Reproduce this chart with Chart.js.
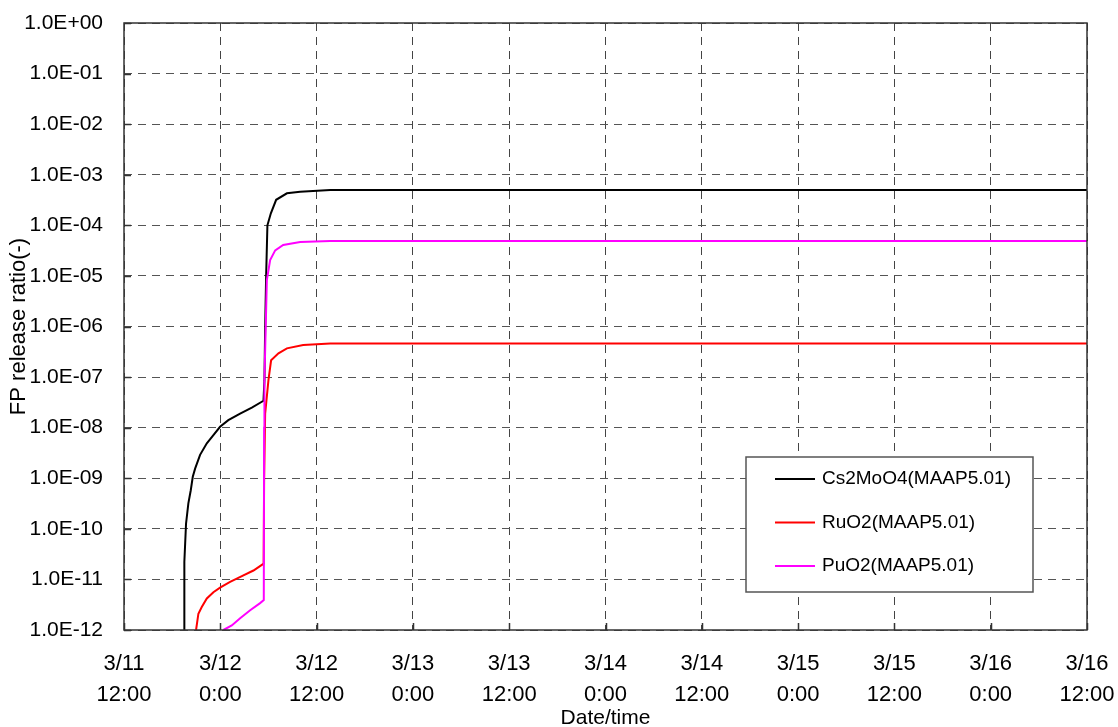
<!DOCTYPE html>
<html>
<head>
<meta charset="utf-8">
<script src="https://cdn.jsdelivr.net/npm/chart.js@4/dist/chart.umd.min.js"></script>
<style>
  html, body { margin: 0; padding: 0; background: #fff; }
  #wrap { width: 1118px; height: 727px; }
</style>
</head>
<body>
<div id="wrap"><canvas id="myChart" width="1118" height="727"></canvas></div>
<script>
// heures depuis le 3/11 12:00
const tickDates = ['3/11', '3/12', '3/12', '3/13', '3/13', '3/14', '3/14', '3/15', '3/15', '3/16', '3/16'];
const tickTimes = ['12:00', '0:00', '12:00', '0:00', '12:00', '0:00', '12:00', '0:00', '12:00', '0:00', '12:00'];

const csHours = [7.52, 7.52, 7.73, 8.02, 8.32, 8.57, 8.86, 9.48, 10.32, 11.14, 11.97, 13.0, 14.47, 15.93, 17.38, 17.5, 17.59, 17.71, 17.87, 18.3, 18.96, 20.3, 21.95, 25.7, 120];
const csRatio = [1e-12, 2.24e-11, 1.26e-10, 3.2e-10, 5.8e-10, 1.07e-9, 1.55e-9, 2.9e-9, 4.9e-9, 7.1e-9, 1.04e-8, 1.41e-8, 1.9e-8, 2.5e-8, 3.4e-8, 8.7e-8, 9.8e-7, 9.6e-6, 1.0e-4, 1.73e-4, 3.2e-4, 4.3e-4, 4.6e-4, 5.0e-4, 5.0e-4];

const ruHours = [8.98, 9.27, 9.69, 10.32, 11.14, 11.97, 13.22, 14.88, 16.13, 17.4, 17.46, 17.59, 18.0, 18.33, 19.25, 20.3, 22.33, 25.7, 120];
const ruRatio = [1e-12, 2.1e-12, 2.85e-12, 4.2e-12, 5.6e-12, 6.9e-12, 8.9e-12, 1.2e-11, 1.5e-11, 2.05e-11, 9.1e-10, 1.9e-8, 8.7e-8, 2.15e-7, 2.95e-7, 3.7e-7, 4.3e-7, 4.6e-7, 4.6e-7];

const puHours = [12.39, 13.43, 14.47, 15.72, 16.96, 17.42, 17.46, 17.5, 17.8, 18.21, 18.84, 19.84, 21.95, 25.7, 120];
const puRatio = [1e-12, 1.23e-12, 1.7e-12, 2.45e-12, 3.4e-12, 3.9e-12, 1e-8, 8.7e-8, 8.3e-6, 2.05e-5, 3.2e-5, 4.1e-5, 4.7e-5, 4.9e-5, 4.9e-5];

const toPoints = (xs, ys) => xs.map((x, i) => ({ x: x, y: ys[i] }));

const FONT = 'Arial, "Liberation Sans", sans-serif';

// cadre, petites graduations et légende dans le graphique
const framePlugin = {
  id: 'frame',
  afterDraw(chart) {
    const c = chart.ctx;
    const a = chart.chartArea;
    const xs = chart.scales.x, ys = chart.scales.y;
    c.save();
    c.strokeStyle = '#333';
    c.lineWidth = 1.5;
    c.beginPath();
    xs.ticks.forEach(t => {
      const px = Math.round(xs.getPixelForValue(t.value)) + 0.5;
      c.moveTo(px, a.bottom); c.lineTo(px, a.bottom - 7);
    });
    ys.ticks.forEach(t => {
      const py = Math.round(ys.getPixelForValue(t.value)) + 0.5;
      c.moveTo(a.left, py); c.lineTo(a.left + 7, py);
    });
    c.stroke();
    c.strokeRect(a.left, a.top, a.right - a.left, a.bottom - a.top);

    // légende
    const bx = 746, by = 457, bw = 287, bh = 135;
    c.fillStyle = '#fff';
    c.fillRect(bx, by, bw, bh);
    c.strokeStyle = '#555';
    c.lineWidth = 1.5;
    c.strokeRect(bx, by, bw, bh);
    c.font = '19px ' + FONT;
    c.textBaseline = 'middle';
    c.textAlign = 'left';
    chart.data.datasets.forEach((ds, i) => {
      const yy = by + 22 + i * 43.5;
      c.strokeStyle = ds.borderColor;
      c.lineWidth = 2;
      c.beginPath();
      c.moveTo(bx + 29, yy); c.lineTo(bx + 69, yy);
      c.stroke();
      c.fillStyle = '#000';
      c.fillText(ds.label, bx + 76, yy);
    });
    c.restore();
  }
};

const ctx = document.getElementById('myChart');

new Chart(ctx, {
  type: 'line',
  data: {
    datasets: [
      { label: 'Cs2MoO4(MAAP5.01)', data: toPoints(csHours, csRatio), borderColor: '#000000', borderWidth: 2, order: 3 },
      { label: 'RuO2(MAAP5.01)', data: toPoints(ruHours, ruRatio), borderColor: '#ff0000', borderWidth: 2, order: 2 },
      { label: 'PuO2(MAAP5.01)', data: toPoints(puHours, puRatio), borderColor: '#ff00ff', borderWidth: 2, order: 1 }
    ]
  },
  options: {
    responsive: false,
    animation: false,
    devicePixelRatio: 1,
    layout: { padding: { left: 0, right: 31, top: 23, bottom: 0 } },
    elements: { point: { radius: 0 }, line: { tension: 0, fill: false } },
    plugins: { legend: { display: false }, tooltip: { enabled: false } },
    scales: {
      x: {
        type: 'linear',
        min: 0,
        max: 120,
        afterFit: s => { s.height = 97; s.paddingLeft = 0; s.paddingRight = 0; },
        grid: { color: '#444', lineWidth: 1, drawTicks: false },
        border: { display: false, dash: [8, 6] },
        ticks: {
          stepSize: 12,
          padding: 19,
          color: '#000',
          maxRotation: 0,
          autoSkip: false,
          font: { family: FONT, size: 22, lineHeight: 1.4 },
          callback: (v, i) => [tickDates[i], tickTimes[i]]
        },
        title: {
          display: true,
          text: 'Date/time',
          color: '#000',
          font: { family: FONT, size: 21, lineHeight: 1.0 },
          padding: { top: 0, bottom: -2 }
        }
      },
      y: {
        type: 'logarithmic',
        min: 1e-12,
        max: 1,
        afterFit: s => { s.width = 124; s.paddingTop = 0; s.paddingBottom = 0; },
        afterBuildTicks: s => {
          const t = [];
          for (let e = -12; e <= 0; e++) t.push({ value: Math.pow(10, e) });
          s.ticks = t;
        },
        grid: { color: '#555', lineWidth: 1, drawTicks: false },
        border: { display: false, dash: [8, 6] },
        ticks: {
          padding: 21,
          color: '#000',
          font: { family: FONT, size: 21 },
          callback: v => {
            const e = Math.round(Math.log10(v));
            const s = Math.abs(e).toString().padStart(2, '0');
            return '1.0E' + (e < 0 ? '-' : '+') + s;
          }
        },
        title: {
          display: true,
          text: 'FP release ratio(-)',
          color: '#000',
          font: { family: FONT, size: 22, lineHeight: 1.2 },
          padding: { top: 6, bottom: 0 }
        }
      }
    }
  },
  plugins: [framePlugin]
});
</script>
</body>
</html>
